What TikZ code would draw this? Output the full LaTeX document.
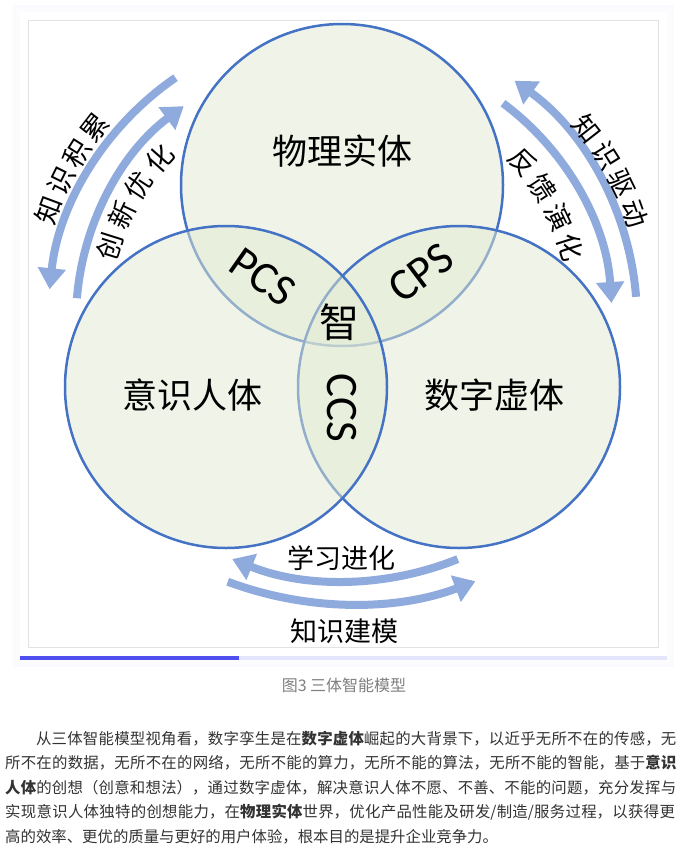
\documentclass[tikz,border=0pt]{standalone}
\usepackage{fontspec}
\newfontfamily\cjk{Noto Sans CJK SC}
\newfontfamily\latin{Carlito}
\usetikzlibrary{arrows.meta}
\definecolor{ring}{HTML}{4472C4}
\definecolor{lobefill}{HTML}{E3EBD3}
\definecolor{flow}{HTML}{8FAADC}
\definecolor{frameline}{HTML}{E2E2E2}
\definecolor{barblue}{HTML}{4F4FF0}
\definecolor{barsoft}{HTML}{E4E7FB}
\definecolor{capgray}{HTML}{7F7F7F}
\definecolor{bodytext}{HTML}{333333}

\begin{document}
\begin{tikzpicture}[x=1pt,y=-1pt,
        venn/.style={circle,draw=ring,line width=2.5pt,fill=lobefill,fill opacity=0.5,
                     minimum size=322pt,inner sep=0pt},
        big/.style={inner sep=0pt,font=\cjk\fontsize{35}{35}\selectfont},
        zone/.style={inner sep=0pt,font=\latin\fontsize{45}{45}\selectfont},
        arclab/.style={inner sep=0pt,font=\cjk\fontsize{27}{27}\selectfont},
        flowarrow/.style={draw=flow,line width=8pt,-{Triangle[length=21pt,width=27pt]}},
        lastline/.style={anchor=base west,inner sep=0pt,text=bodytext,
                  font=\cjk\fontsize{15.4}{24}\selectfont},
        bodyline/.style={lastline,text width=679pt,
                  execute at begin node={\parindent=0pt\parfillskip=0pt
                     \XeTeXlinebreaklocale "zh"\XeTeXlinebreakskip=0pt plus 1pt\relax}}]
        \useasboundingbox (0,0) rectangle (693,859);
        \fill[white] (0,0) rectangle (693,859);
        % card with faint shadow
        \fill[blue!2] (13,5) rectangle (674,667);
        \fill[blue!1] (16,8) rectangle (671,664);
        \fill[white] (20,12) rectangle (667,660);
        \draw[frameline,line width=1pt] (28.5,21) rectangle (658,647);
        \fill[barsoft] (20,656) rectangle (667,660);
        \fill[barblue] (20,656) rectangle (239,660);

        % three bodies
        \node[venn] (phys) at (342,185) {};
        \node[venn] (digi) at (459,387) {};
        \node[venn] (mind) at (226,387) {};
        \node[big] (tphys) at (342,151) {物理实体};
        \node[big] (tmind) at (192,395) {意识人体};
        \node[big] (tdigi) at (494,395) {数字虚体};
        \node[inner sep=0pt,font=\cjk\fontsize{40}{40}\selectfont] (wit) at (339,322) {智};
        \node[zone,rotate=-35] (pcs) at (263,277) {PCS};
        \node[zone,rotate=37] (cps) at (421,273) {CPS};
        \node[zone,rotate=-90] (ccs) at (342,408) {CCS};

        % loops around
        \coordinate (hub) at (342,320);
        \coordinate (hubA) at (345,280);
        \coordinate (hubB) at (351,252);
        \draw[flowarrow] (hub) ++(-124.5:294) arc[start angle=-124.5,end angle=-174,radius=294];
        \draw[flowarrow] (hub) ++(-175.3:266) arc[start angle=-175.3,end angle=-126.5,radius=266];
        \draw[flowarrow] (hub) ++(-4.5:295) arc[start angle=-4.5,end angle=-54.2,radius=295];
        \draw[flowarrow] (hub) ++(-53.4:270) arc[start angle=-53.4,end angle=-3.6,radius=270];
        \draw[flowarrow] (hubA) ++(68:301) arc[start angle=68,end angle=112,radius=301];
        \draw[flowarrow] (hubB) ++(110.5:352) arc[start angle=110.5,end angle=69.3,radius=352];

        \foreach \ch [count=\i] in {知,识,积,累} {
          \pgfmathsetmacro\ang{159.5-5.8*(\i-1)}
          \path (hub) ++(-\ang:313) node[arclab,rotate=\ang-90] (acc\i) {\ch};
        }
        \foreach \ch [count=\i] in {创,新,优,化} {
          \pgfmathsetmacro\ang{162.5-8*(\i-1)}
          \path (hub) ++(-\ang:244) node[arclab,rotate=\ang-90] (inno\i) {\ch};
        }
        \foreach \ch [count=\i] in {知,识,驱,动} {
          \pgfmathsetmacro\ang{38-6*(\i-1)}
          \path (hub) ++(-\ang:311) node[arclab,rotate=\ang-90] (drv\i) {\ch};
        }
        \foreach \ch [count=\i] in {反,馈,演,化} {
          \pgfmathsetmacro\ang{41-7.8*(\i-1)}
          \path (hub) ++(-\ang:240) node[arclab,rotate=\ang-90] (fb\i) {\ch};
        }
        \node[arclab] (learn) at (341,558) {学习进化};
        \node[arclab] (model) at (344,631) {知识建模};

        % caption and text
        \node[inner sep=0pt,text=capgray,font=\cjk\fontsize{16}{16}\selectfont] (cap) at (344,685) {图3 三体智能模型};
        \node[bodyline] (p1) at (5,744) {\hspace*{2em}从三体智能模型视角看，数字孪生是在{\bfseries 数字虚体}崛起的大背景下，以近乎无所不在的传感，无};
        \node[bodyline] (p2) at (5,768.5) {所不在的数据，无所不在的网络，无所不能的算力，无所不能的算法，无所不能的智能，基于{\bfseries 意识}};
        \node[bodyline] (p3) at (5,793) {{\bfseries 人体}的创想（创意和想法），通过数字虚体，解决意识人体不愿、不善、不能的问题，充分发挥与};
        \node[bodyline] (p4) at (5,817.5) {实现意识人体独特的创想能力，在{\bfseries 物理实体}世界，优化产品性能及研发/制造/服务过程，以获得更};
        \node[lastline] (p5) at (5,842) {高的效率、更优的质量与更好的用户体验，根本目的是提升企业竞争力。};
      \end{tikzpicture}
\end{document}
